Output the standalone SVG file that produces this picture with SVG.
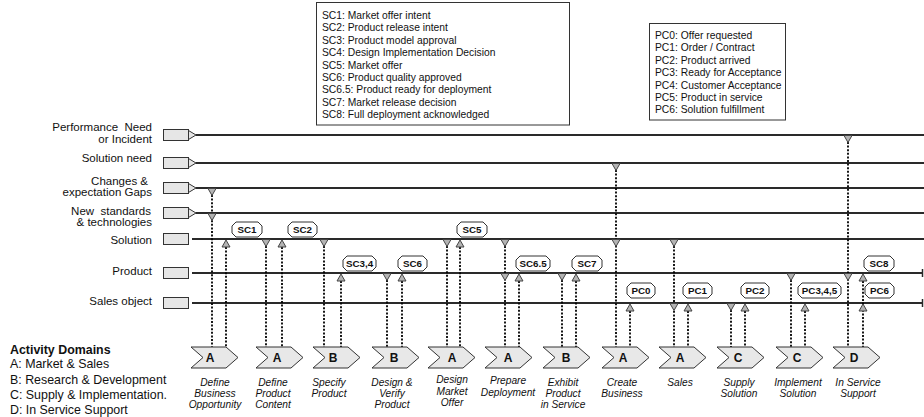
<svg xmlns="http://www.w3.org/2000/svg" width="924" height="417" viewBox="0 0 924 417">
<style>
  text { font-family: "Liberation Sans", Arial, sans-serif; fill: #111; }
  .lg { font-size: 10.3px; }
  .lane { font-size: 11.5px; text-anchor: end; }
  .dom { font-size: 12.4px; }
  .domh { font-size: 12.4px; font-weight: bold; }
  .act { font-size: 10.2px; font-style: italic; text-anchor: middle; }
  .chl { font-size: 12px; font-weight: bold; text-anchor: middle; }
  .tag { font-size: 9.8px; font-weight: bold; text-anchor: middle; }
  .legend { fill: #fff; stroke: #333; stroke-width: 1; }
  .lanebox { fill: #e6e6e6; stroke: #333; stroke-width: 1; }
  .src { fill: #e6e6e6; stroke: #333; stroke-width: 1; }
  .track { stroke: #2a2a2a; stroke-width: 2; fill: none; }
  .endtick { stroke: #2a2a2a; stroke-width: 1.5; }
  .dot { stroke: #000; stroke-width: 1.8; stroke-dasharray: 2 1.6; fill: none; }
  .tri { fill: #b4b4b4; stroke: #444; stroke-width: 1; }
  .chev { fill: #e8e8e8; stroke: #333; stroke-width: 1; }
  .tagbox { fill: #fff; stroke: #333; stroke-width: 1; }
</style>
<defs>
  <path id="dn" class="tri" d="M-4,0.5 L4,0.5 L0,7.5 Z"/>
  <path id="up" class="tri" d="M0,1 L4,8 L-4,8 Z"/>
  <path id="chevron" class="chev" d="M0,0 H35 L47,10.5 L35,21 H0 L12,10.5 Z"/>
</defs>

<!-- milestone legends -->
<g id="sc-legend">
  <rect class="legend" x="316.5" y="2.5" width="253" height="122.5"/>
  <text class="lg" x="322" y="19">SC1: Market offer intent</text>
  <text class="lg" x="322" y="31.4">SC2: Product release intent</text>
  <text class="lg" x="322" y="43.8">SC3: Product model approval</text>
  <text class="lg" x="322" y="56.2">SC4: Design Implementation Decision</text>
  <text class="lg" x="322" y="68.6">SC5: Market offer</text>
  <text class="lg" x="322" y="81">SC6: Product quality approved</text>
  <text class="lg" x="322" y="93.4">SC6.5: Product ready for deployment</text>
  <text class="lg" x="322" y="105.8">SC7: Market release decision</text>
  <text class="lg" x="322" y="118.2">SC8: Full deployment acknowledged</text>
</g>
<g id="pc-legend">
  <rect class="legend" x="649.5" y="23.5" width="136" height="96.5"/>
  <text class="lg" x="655" y="39">PC0: Offer requested</text>
  <text class="lg" x="655" y="51.4">PC1: Order / Contract</text>
  <text class="lg" x="655" y="63.8">PC2: Product arrived</text>
  <text class="lg" x="655" y="76.2">PC3: Ready for Acceptance</text>
  <text class="lg" x="655" y="88.6">PC4: Customer Acceptance</text>
  <text class="lg" x="655" y="101">PC5: Product in service</text>
  <text class="lg" x="655" y="113.4">PC6: Solution fulfillment</text>
</g>

<!-- lanes -->
<g id="lane-performance">
  <text class="lane" x="152" y="131" xml:space="preserve">Performance  Need</text>
  <text class="lane" x="152" y="143">or Incident</text>
  <rect class="lanebox" x="163.5" y="129.5" width="25" height="11"/>
  <path class="src" d="M188.5,130.5 L196,135 L188.5,139.5 Z"/>
  <line class="track" x1="196" y1="135" x2="924" y2="135"/>
</g>
<g id="lane-solution-need">
  <text class="lane" x="152" y="162">Solution need</text>
  <rect class="lanebox" x="163.5" y="157.5" width="25" height="11"/>
  <path class="src" d="M188.5,158.5 L196,163 L188.5,167.5 Z"/>
  <line class="track" x1="196" y1="163" x2="924" y2="163"/>
</g>
<g id="lane-changes">
  <text class="lane" x="148" y="185">Changes &amp;</text>
  <text class="lane" x="152" y="196">expectation Gaps</text>
  <rect class="lanebox" x="163.5" y="182.5" width="25" height="11"/>
  <path class="src" d="M188.5,183.5 L196,188 L188.5,192.5 Z"/>
  <line class="track" x1="196" y1="188" x2="924" y2="188"/>
</g>
<g id="lane-standards">
  <text class="lane" x="151" y="215" xml:space="preserve">New  standards</text>
  <text class="lane" x="152" y="225.5">&amp; technologies</text>
  <rect class="lanebox" x="163.5" y="207.5" width="25" height="11"/>
  <path class="src" d="M188.5,208.5 L196,213 L188.5,217.5 Z"/>
  <line class="track" x1="196" y1="213" x2="924" y2="213"/>
</g>
<g id="lane-solution">
  <text class="lane" x="152" y="244">Solution</text>
  <rect class="lanebox" x="163.5" y="233.5" width="25" height="11"/>
  <line class="track" x1="192" y1="239" x2="924" y2="239"/>
</g>
<g id="lane-product">
  <text class="lane" x="152" y="275">Product</text>
  <rect class="lanebox" x="163.5" y="267.5" width="25" height="11"/>
  <line class="track" x1="192" y1="273" x2="922" y2="273"/>
  <line class="endtick" x1="922.5" y1="269" x2="922.5" y2="277"/>
</g>
<g id="lane-sales-object">
  <text class="lane" x="152" y="305">Sales object</text>
  <rect class="lanebox" x="163.5" y="297.5" width="25" height="11"/>
  <line class="track" x1="192" y1="303" x2="922" y2="303"/>
  <line class="endtick" x1="922.5" y1="299" x2="922.5" y2="307"/>
</g>

<!-- trigger and result connectors -->
<g id="connectors">
  <line class="dot" x1="212" y1="195" x2="212" y2="347"/>
  <line class="dot" x1="226" y1="247" x2="226" y2="347"/>
  <line class="dot" x1="266" y1="246" x2="266" y2="347"/>
  <line class="dot" x1="282" y1="247" x2="282" y2="347"/>
  <line class="dot" x1="324" y1="246" x2="324" y2="347"/>
  <line class="dot" x1="341" y1="281" x2="341" y2="347"/>
  <line class="dot" x1="387" y1="280" x2="387" y2="347"/>
  <line class="dot" x1="402" y1="281" x2="402" y2="347"/>
  <line class="dot" x1="447" y1="246" x2="447" y2="347"/>
  <line class="dot" x1="460" y1="247" x2="460" y2="347"/>
  <line class="dot" x1="505" y1="246" x2="505" y2="347"/>
  <line class="dot" x1="519" y1="281" x2="519" y2="347"/>
  <line class="dot" x1="562" y1="280" x2="562" y2="347"/>
  <line class="dot" x1="576" y1="281" x2="576" y2="347"/>
  <line class="dot" x1="616" y1="170" x2="616" y2="347"/>
  <line class="dot" x1="630" y1="311" x2="630" y2="347"/>
  <line class="dot" x1="674" y1="246" x2="674" y2="347"/>
  <line class="dot" x1="688" y1="311" x2="688" y2="347"/>
  <line class="dot" x1="731" y1="310" x2="731" y2="347"/>
  <line class="dot" x1="745" y1="311" x2="745" y2="347"/>
  <line class="dot" x1="791" y1="280" x2="791" y2="347"/>
  <line class="dot" x1="805" y1="311" x2="805" y2="347"/>
  <line class="dot" x1="848" y1="142" x2="848" y2="347"/>
  <line class="dot" x1="863" y1="281" x2="863" y2="347"/>

  <!-- down markers: lane triggers -->
  <use href="#dn" x="212" y="188"/>
  <use href="#dn" x="212" y="213"/>
  <use href="#dn" x="266" y="239"/>
  <use href="#dn" x="324" y="239"/>
  <use href="#dn" x="387" y="273"/>
  <use href="#dn" x="447" y="239"/>
  <use href="#dn" x="505" y="239"/>
  <use href="#dn" x="505" y="273"/>
  <use href="#dn" x="562" y="273"/>
  <use href="#dn" x="616" y="163"/>
  <use href="#dn" x="616" y="239"/>
  <use href="#dn" x="674" y="239"/>
  <use href="#dn" x="674" y="303"/>
  <use href="#dn" x="731" y="303"/>
  <use href="#dn" x="791" y="273"/>
  <use href="#dn" x="848" y="135"/>
  <use href="#dn" x="848" y="273"/>

  <!-- up markers: results delivered to lanes -->
  <use href="#up" x="226" y="239"/>
  <use href="#up" x="282" y="239"/>
  <use href="#up" x="341" y="273"/>
  <use href="#up" x="402" y="273"/>
  <use href="#up" x="460" y="239"/>
  <use href="#up" x="519" y="273"/>
  <use href="#up" x="576" y="273"/>
  <use href="#up" x="630" y="303"/>
  <use href="#up" x="688" y="303"/>
  <use href="#up" x="745" y="303"/>
  <use href="#up" x="805" y="303"/>
  <use href="#up" x="863" y="273"/>
  <use href="#up" x="863" y="303"/>
</g>

<!-- control point tags -->
<g id="tag-sc1"><polygon class="tagbox" points="236,222 258,222 262,226 262,233 258,237 236,237 232,233 232,226"/><text class="tag" x="247" y="233">SC1</text></g>
<g id="tag-sc2"><polygon class="tagbox" points="292,222 313,222 317,226 317,233 313,237 292,237 288,233 288,226"/><text class="tag" x="302.5" y="233">SC2</text></g>
<g id="tag-sc5"><polygon class="tagbox" points="461,222 483,222 487,226 487,233 483,237 461,237 457,233 457,226"/><text class="tag" x="472" y="233">SC5</text></g>
<g id="tag-sc34"><polygon class="tagbox" points="347,256 372,256 376,260 376,267 372,271 347,271 343,267 343,260"/><text class="tag" x="359.5" y="267">SC3,4</text></g>
<g id="tag-sc6"><polygon class="tagbox" points="402,256 423,256 427,260 427,267 423,271 402,271 398,267 398,260"/><text class="tag" x="412.5" y="267">SC6</text></g>
<g id="tag-sc65"><polygon class="tagbox" points="520,256 546,256 550,260 550,267 546,271 520,271 516,267 516,260"/><text class="tag" x="533" y="267">SC6.5</text></g>
<g id="tag-sc7"><polygon class="tagbox" points="576,256 598,256 602,260 602,267 598,271 576,271 572,267 572,260"/><text class="tag" x="587" y="267">SC7</text></g>
<g id="tag-sc8"><polygon class="tagbox" points="868,256 890,256 894,260 894,267 890,271 868,271 864,267 864,260"/><text class="tag" x="879" y="267">SC8</text></g>
<g id="tag-pc0"><polygon class="tagbox" points="631,283 651,283 655,287 655,294 651,298 631,298 627,294 627,287"/><text class="tag" x="641" y="294">PC0</text></g>
<g id="tag-pc1"><polygon class="tagbox" points="687,283 708,283 712,287 712,294 708,298 687,298 683,294 683,287"/><text class="tag" x="697.5" y="294">PC1</text></g>
<g id="tag-pc2"><polygon class="tagbox" points="745,283 765,283 769,287 769,294 765,298 745,298 741,294 741,287"/><text class="tag" x="755" y="294">PC2</text></g>
<g id="tag-pc345"><polygon class="tagbox" points="802,283 837,283 841,287 841,294 837,298 802,298 798,294 798,287"/><text class="tag" x="819.5" y="294">PC3,4,5</text></g>
<g id="tag-pc6"><polygon class="tagbox" points="869,283 890,283 894,287 894,294 890,298 869,298 865,294 865,287"/><text class="tag" x="879.5" y="294">PC6</text></g>

<!-- activities -->
<g id="act-define-business">
  <use href="#chevron" x="191" y="347"/><text class="chl" x="210" y="362">A</text>
  <text class="act" x="215" y="385.5">Define</text><text class="act" x="215" y="396.5">Business</text><text class="act" x="215" y="407.5">Opportunity</text>
</g>
<g id="act-define-product">
  <use href="#chevron" x="256" y="347"/><text class="chl" x="277" y="362">A</text>
  <text class="act" x="273" y="385.5">Define</text><text class="act" x="273" y="396.5">Product</text><text class="act" x="273" y="407.5">Content</text>
</g>
<g id="act-specify-product">
  <use href="#chevron" x="313" y="347"/><text class="chl" x="333" y="362">B</text>
  <text class="act" x="329" y="385.5">Specify</text><text class="act" x="329" y="396.5">Product</text>
</g>
<g id="act-design-verify">
  <use href="#chevron" x="372" y="347"/><text class="chl" x="394" y="362">B</text>
  <text class="act" x="392" y="385.5">Design &amp;</text><text class="act" x="392" y="396.5">Verify</text><text class="act" x="392" y="407.5">Product</text>
</g>
<g id="act-design-offer">
  <use href="#chevron" x="428" y="347"/><text class="chl" x="452" y="362">A</text>
  <text class="act" x="452" y="383">Design</text><text class="act" x="452" y="394.5">Market</text><text class="act" x="452" y="406">Offer</text>
</g>
<g id="act-prepare-deployment">
  <use href="#chevron" x="485" y="347"/><text class="chl" x="508" y="362">A</text>
  <text class="act" x="508" y="384">Prepare</text><text class="act" x="508" y="395.5">Deployment</text>
</g>
<g id="act-exhibit-product">
  <use href="#chevron" x="543" y="347"/><text class="chl" x="566" y="362">B</text>
  <text class="act" x="563" y="385.5">Exhibit</text><text class="act" x="563" y="396.5">Product</text><text class="act" x="563" y="408">in Service</text>
</g>
<g id="act-create-business">
  <use href="#chevron" x="602" y="347"/><text class="chl" x="623" y="362">A</text>
  <text class="act" x="622" y="385.5">Create</text><text class="act" x="622" y="396.5">Business</text>
</g>
<g id="act-sales">
  <use href="#chevron" x="659" y="347"/><text class="chl" x="680" y="362">A</text>
  <text class="act" x="680" y="385.5">Sales</text>
</g>
<g id="act-supply-solution">
  <use href="#chevron" x="717" y="347"/><text class="chl" x="738" y="362">C</text>
  <text class="act" x="739" y="385.5">Supply</text><text class="act" x="739" y="396.5">Solution</text>
</g>
<g id="act-implement-solution">
  <use href="#chevron" x="776" y="347"/><text class="chl" x="797" y="362">C</text>
  <text class="act" x="798" y="385.5">Implement</text><text class="act" x="798" y="396.5">Solution</text>
</g>
<g id="act-in-service-support">
  <use href="#chevron" x="833" y="347"/><text class="chl" x="854" y="362">D</text>
  <text class="act" x="858" y="385.5">In Service</text><text class="act" x="858" y="396.5">Support</text>
</g>

<!-- domain key -->
<g id="domain-key">
  <text class="domh" x="10" y="354">Activity Domains</text>
  <text class="dom" x="10" y="368">A: Market &amp; Sales</text>
  <text class="dom" x="10" y="383.5">B: Research &amp; Development</text>
  <text class="dom" x="10" y="398.5">C: Supply &amp; Implementation.</text>
  <text class="dom" x="10" y="413.5">D: In Service Support</text>
</g>
</svg>
